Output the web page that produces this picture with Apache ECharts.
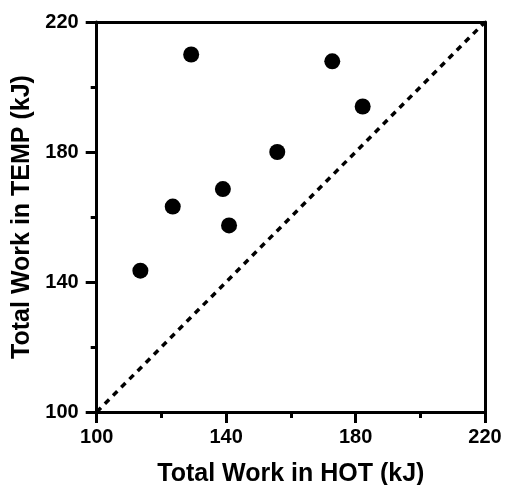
<!DOCTYPE html>
<html>
<head>
<meta charset="utf-8">
<script src="https://cdn.jsdelivr.net/npm/echarts@6/dist/echarts.min.js"></script>
<style>
html,body{margin:0;padding:0;background:#fff;}
#chart{width:509px;height:485px;}
</style>
</head>
<body>
<div id="chart"></div>
<script>
var hotWork = [113.5, 123.5, 129.2, 139.0, 140.9, 155.8, 172.8, 182.2];
var tempWork = [143.5, 163.2, 210.0, 168.6, 157.4, 180.0, 207.9, 194.0];
var identityLine = [[100, 100], [220, 220]];
var axisMin = 100, axisMax = 220, axisStep = 40;
var xTitle = 'Total Work in HOT (kJ)';
var yTitle = 'Total Work in TEMP (kJ)';

var points = hotWork.map(function (x, i) { return [x, tempWork[i]]; });
var font = '"Liberation Sans", Arial, sans-serif';

var chart = echarts.init(document.getElementById('chart'), null, {renderer: 'canvas'});
var baseAxis = {
  type: 'value', min: axisMin, max: axisMax, interval: axisStep,
  axisLine: {show: true, lineStyle: {color: '#000', width: 3}},
  axisTick: {show: true, inside: false, length: 11, lineStyle: {color: '#000', width: 3}},
  minorTick: {show: true, splitNumber: 2, length: 6, lineStyle: {color: '#000', width: 3}},
  splitLine: {show: false},
  axisLabel: {color: '#000', fontFamily: font, fontWeight: 'bold', fontSize: 20},
  nameLocation: 'middle',
  nameTextStyle: {color: '#000', fontFamily: font, fontWeight: 'bold', fontSize: 25}
};
function frameAxis(pos) {
  return {
    type: 'value', min: axisMin, max: axisMax, position: pos,
    axisLine: {show: true, lineStyle: {color: '#000', width: 3}},
    axisTick: {show: false}, axisLabel: {show: false}, splitLine: {show: false}
  };
}
chart.setOption({
  animation: false,
  backgroundColor: '#fff',
  grid: {left: 96.7, right: 24, top: 22, bottom: 73, containLabel: false, outerBoundsMode: 'none'},
  xAxis: [
    Object.assign({}, baseAxis, {
      position: 'bottom', name: xTitle, nameGap: 50,
      axisLabel: Object.assign({}, baseAxis.axisLabel, {margin: 15})
    }),
    frameAxis('top')
  ],
  yAxis: [
    Object.assign({}, baseAxis, {
      position: 'left', name: yTitle, nameGap: 57,
      axisLabel: Object.assign({}, baseAxis.axisLabel, {margin: 18})
    }),
    frameAxis('right')
  ],
  series: [
    {
      type: 'line', data: identityLine, symbol: 'none', silent: true,
      lineStyle: {color: '#000', width: 3.5, type: [6, 5.6], opacity: 1}
    },
    {
      type: 'scatter', data: points, symbol: 'circle', symbolSize: 16,
      itemStyle: {color: '#000', opacity: 1}
    }
  ]
});
</script>
</body>
</html>
